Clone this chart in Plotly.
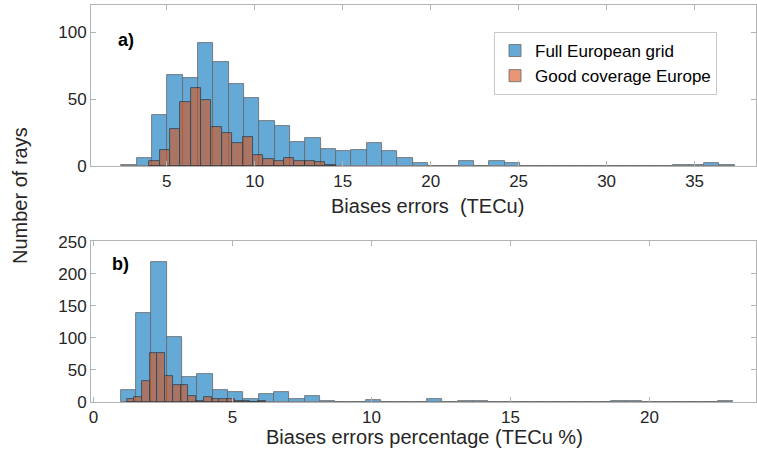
import plotly.graph_objects as go
from plotly.subplots import make_subplots

# ---- data (histogram counts) ----
# panel a) Biases errors (TECu)
a_full_start = 2.43
a_full_width = 0.871
a_full_counts = [1, 6, 38, 68, 66, 92, 78, 61, 51, 34, 30, 18, 21, 13, 11, 12, 17, 11, 6, 2,
                 0, 0, 4, 0, 4, 2, 0, 0, 0, 0, 0, 0, 0, 0, 0, 0, 1, 1, 2, 1]
a_good_start = 4.01
a_good_width = 0.589
a_good_counts = [4, 12, 28, 48, 58, 49, 29, 25, 17, 22, 8, 5, 4, 6, 4, 4, 3, 1]

# panel b) Biases errors percentage (TECu %)
b_full_start = 0.98
b_full_width = 0.551
b_full_counts = [19, 139, 218, 102, 39, 43, 18, 15, 5, 12, 15, 5, 10, 2, 0, 0, 3, 0, 0, 0,
                 5, 0, 2, 2, 0, 0, 0, 0, 0, 0, 0, 0, 1, 1, 0, 0, 0, 0, 0, 1]
b_good_start = 1.187
b_good_width = 0.278
b_good_counts = [5, 7, 32, 76, 76, 40, 27, 26, 10, 2, 8, 4, 4, 5, 2, 1, 0, 1]

a_xticks = [5, 10, 15, 20, 25, 30, 35]
a_yticks = [0, 50, 100]
b_xticks = [0, 5, 10, 15, 20]
b_yticks = [0, 50, 100, 150, 200, 250]

series_names = ["Full European grid", "Good coverage Europe"]
BLUE = "rgb(0,114,189)"
RED = "rgb(217,83,25)"


def centers(start, width, counts):
    return [start + width * (i + 0.5) for i in range(len(counts))]


FONT = "Arial, Liberation Sans, Helvetica, sans-serif"
TXT = "#262626"
AX = "#b4b4b4"

fig = make_subplots(rows=2, cols=1)

fig.add_trace(go.Bar(x=centers(a_full_start, a_full_width, a_full_counts), y=a_full_counts,
                     width=a_full_width, name=series_names[0], opacity=0.6,
                     marker=dict(color=BLUE, line=dict(color="black", width=0.8)),
                     legendgroup="f"), row=1, col=1)
fig.add_trace(go.Bar(x=centers(a_good_start, a_good_width, a_good_counts), y=a_good_counts,
                     width=a_good_width, name=series_names[1], opacity=0.6,
                     marker=dict(color=RED, line=dict(color="black", width=0.8)),
                     legendgroup="g"), row=1, col=1)
fig.add_trace(go.Bar(x=centers(b_full_start, b_full_width, b_full_counts), y=b_full_counts,
                     width=b_full_width, name=series_names[0], opacity=0.6, showlegend=False,
                     marker=dict(color=BLUE, line=dict(color="black", width=0.8)),
                     legendgroup="f"), row=2, col=1)
fig.add_trace(go.Bar(x=centers(b_good_start, b_good_width, b_good_counts), y=b_good_counts,
                     width=b_good_width, name=series_names[1], opacity=0.6, showlegend=False,
                     marker=dict(color=RED, line=dict(color="black", width=0.8)),
                     legendgroup="g"), row=2, col=1)

axis_common = dict(showline=True, linecolor=AX, linewidth=1, mirror="ticks",
                   ticks="inside", ticklen=5, tickcolor=AX, showgrid=False, zeroline=False,
                   automargin=False,
                   tickfont=dict(family=FONT, size=17, color=TXT))

fig.update_xaxes(**axis_common)
fig.update_yaxes(**axis_common)

fig.update_xaxes(range=[0.70, 38.49], tickvals=a_xticks, domain=[0, 1], row=1, col=1)
fig.update_yaxes(range=[0, 120.4], tickvals=a_yticks, domain=[0.5945, 1], row=1, col=1)
fig.update_xaxes(range=[-0.09, 23.83], tickvals=b_xticks, domain=[0, 1], row=2, col=1)
fig.update_yaxes(range=[0, 251], tickvals=b_yticks, domain=[0, 0.4055], row=2, col=1)


def ann(text, px, py, size, color, **kw):
    return dict(text=text, xref="paper", yref="paper", x=(px - 91) / 665, y=(402 - py) / 397,
                xanchor="center", yanchor="middle", showarrow=False,
                font=dict(family=FONT, size=size, color=color), **kw)


fig.update_layout(
    width=757, height=457,
    margin=dict(l=91, r=1, t=5, b=55, autoexpand=False),
    paper_bgcolor="white", plot_bgcolor="white",
    barmode="overlay", bargap=0,
    font=dict(family=FONT, color=TXT),
    showlegend=True,
    legend=dict(x=(494 - 91) / 665, y=(402 - 32) / 397, xanchor="left", yanchor="top",
                bgcolor="white", bordercolor="#c8c8c8", borderwidth=1,
                font=dict(family=FONT, size=17, color="black"),
                tracegroupgap=0, itemwidth=30),
    annotations=[
        ann("<b>a)</b>", 126, 40, 18, "black"),
        ann("<b>b)</b>", 120, 264, 18, "black"),
        ann("Biases errors  (TECu)", 427, 206, 20, TXT),
        ann("Biases errors percentage (TECu %)", 424, 437, 20, TXT),
        ann("Number of rays", 20, 196, 20, TXT, textangle=-90),
    ],
)

fig.write_html("out.html",
               config={"displayModeBar": False},
               post_script="document.body.style.margin='0';document.body.style.padding='0';"
                           "document.body.style.overflow='hidden';")
